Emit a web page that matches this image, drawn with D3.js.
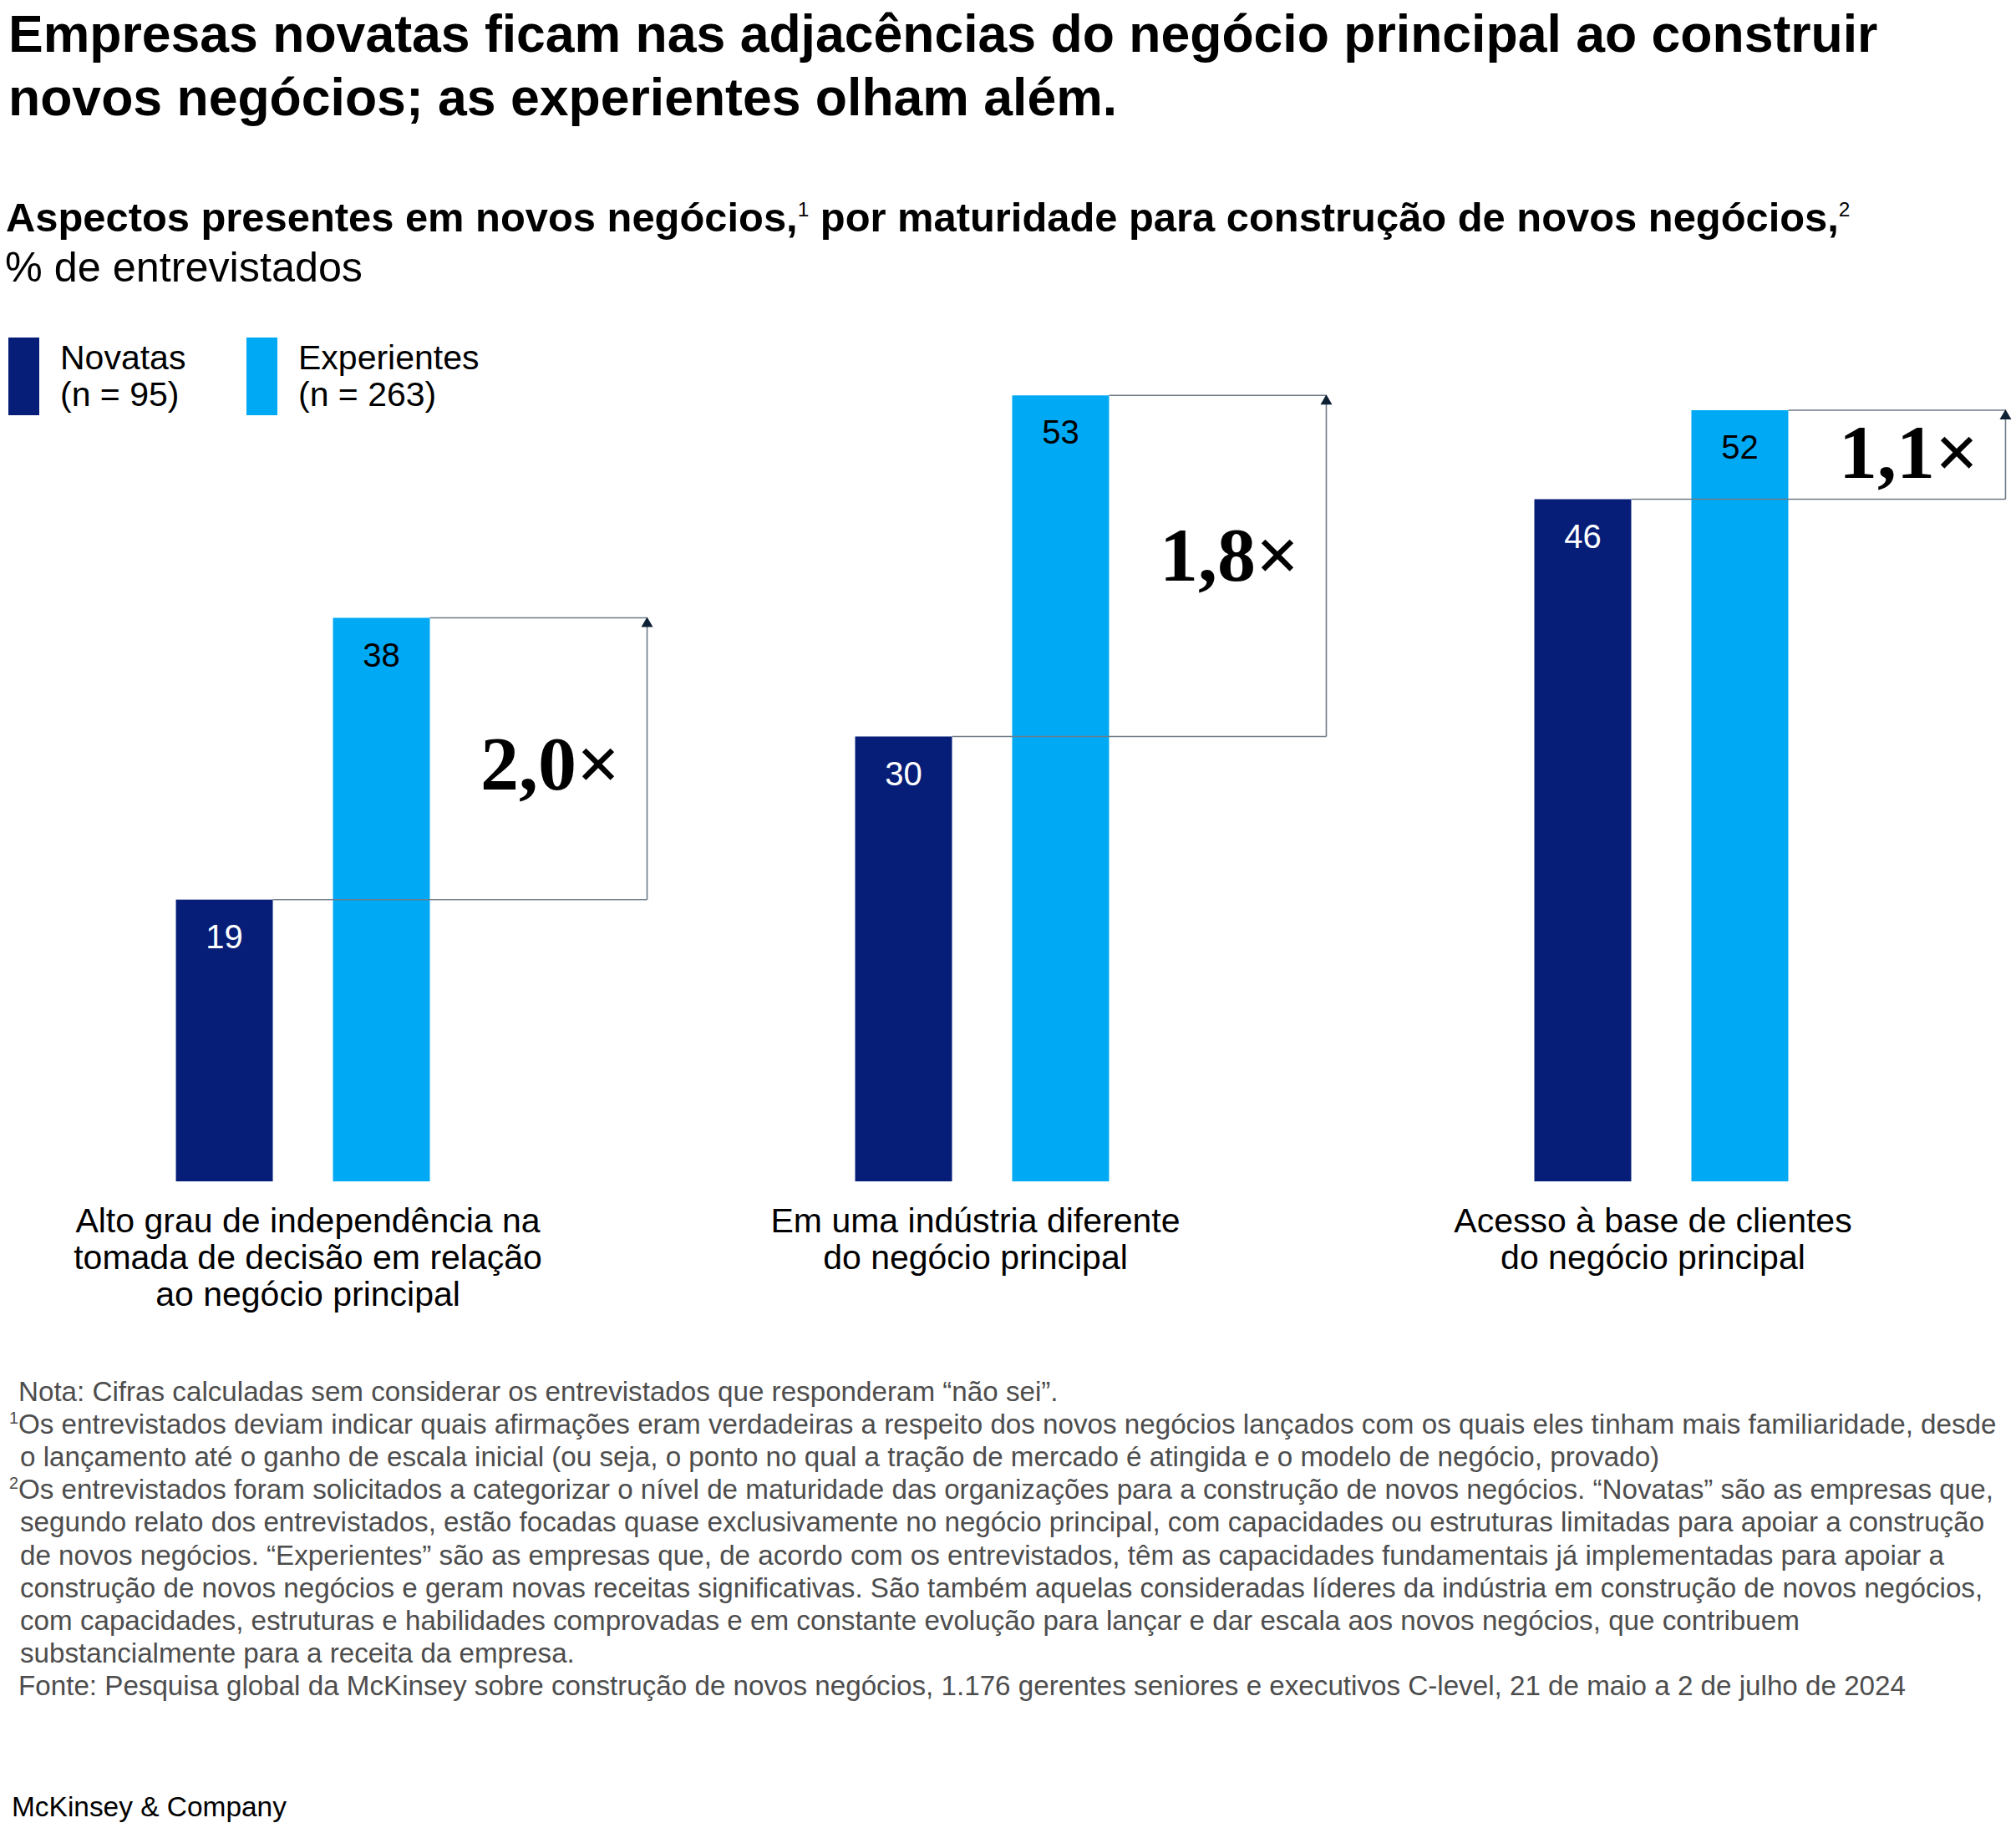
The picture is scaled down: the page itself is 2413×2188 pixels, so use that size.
<!DOCTYPE html>
<html><head><meta charset="utf-8">
<script src="https://cdn.jsdelivr.net/npm/d3@7"></script>
<style>body{margin:0;background:#fff} svg{display:block}</style>
</head><body>
<script>
// ---- data ----
const categories = ["Alto grau de independência na tomada de decisão em relação ao negócio principal",
                    "Em uma indústria diferente do negócio principal",
                    "Acesso à base de clientes do negócio principal"];
const categoryLines = [["Alto grau de independência na","tomada de decisão em relação","ao negócio principal"],
                       ["Em uma indústria diferente","do negócio principal"],
                       ["Acesso à base de clientes","do negócio principal"]];
const series = ["Novatas","Experientes"];
const seriesN = ["(n = 95)","(n = 263)"];
const novatas = [19, 30, 46];
const experientes = [38, 53, 52];
const multipliers = ["2,0×","1,8×","1,1×"];
const titleLines = ["Empresas novatas ficam nas adjacências do negócio principal ao construir",
                    "novos negócios; as experientes olham além."];
const subtitleParts = ["Aspectos presentes em novos negócios,","1"," por maturidade para construção de novos negócios,","2"];
const unitLabel = "% de entrevistados";
const footnotes = [
  ["", "Nota: Cifras calculadas sem considerar os entrevistados que responderam “não sei”."],
  ["1","Os entrevistados deviam indicar quais afirmações eram verdadeiras a respeito dos novos negócios lançados com os quais eles tinham mais familiaridade, desde"],
  ["", "o lançamento até o ganho de escala inicial (ou seja, o ponto no qual a tração de mercado é atingida e o modelo de negócio, provado)"],
  ["2","Os entrevistados foram solicitados a categorizar o nível de maturidade das organizações para a construção de novos negócios. “Novatas” são as empresas que,"],
  ["", "segundo relato dos entrevistados, estão focadas quase exclusivamente no negócio principal, com capacidades ou estruturas limitadas para apoiar a construção"],
  ["", "de novos negócios. “Experientes” são as empresas que, de acordo com os entrevistados, têm as capacidades fundamentais já implementadas para apoiar a"],
  ["", "construção de novos negócios e geram novas receitas significativas. São também aquelas consideradas líderes da indústria em construção de novos negócios,"],
  ["", "com capacidades, estruturas e habilidades comprovadas e em constante evolução para lançar e dar escala aos novos negócios, que contribuem"],
  ["", "substancialmente para a receita da empresa."],
  ["", "Fonte: Pesquisa global da McKinsey sobre construção de novos negócios, 1.176 gerentes seniores e executivos C-level, 21 de maio a 2 de julho de 2024"]
];
const brand = "McKinsey & Company";

// ---- styles ----
const W = 2413, H = 2188;
const NAVY = "#061e78", BLUE = "#00a9f4";
const SANS = "'Liberation Sans', Arial, Helvetica, sans-serif";
const SERIF = "'Liberation Serif', 'Times New Roman', serif";
const labelShift = [6, -8, -10];      // horizontal nudge of category labels (layout)
const multShift = [6, -13, -3];       // vertical nudge of multiplier labels (layout)

const svg = d3.select("body").append("svg").attr("width", W).attr("height", H)
  .style("font-family", SANS);

function fit(sel, target) {
  const len = sel.node().getComputedTextLength();
  const fs = parseFloat(sel.attr("font-size"));
  const nf = fs * target / len;
  sel.attr("font-size", nf);
  return nf;
}

// ---- title ----
const t1 = svg.append("text").attr("x", 10).attr("y", 62).attr("font-size", 60)
  .attr("font-weight", "bold").attr("fill", "#000").text(titleLines[0]);
const tfs = fit(t1, 2238);
svg.append("text").attr("x", 10).attr("y", 138).attr("font-size", tfs)
  .attr("font-weight", "bold").attr("fill", "#000").text(titleLines[1]);

// ---- subtitle ----
const st = svg.append("text").attr("x", 7).attr("y", 277).attr("font-size", 46)
  .attr("font-weight", "bold").attr("fill", "#000");
st.append("tspan").text(subtitleParts[0]);
st.append("tspan").attr("font-size", "0.5em").attr("font-weight", "normal").attr("dy", -18).text(subtitleParts[1]);
st.append("tspan").attr("dy", 18).text(subtitleParts[2]);
st.append("tspan").attr("font-size", "0.5em").attr("font-weight", "normal").attr("dy", -18).text(subtitleParts[3]);
const sfs = fit(st, 2208);
const ut = svg.append("text").attr("x", 6).attr("y", 337).attr("font-size", sfs)
  .attr("fill", "#000").text(unitLabel);
fit(ut, 428);

// ---- legend ----
const legX = [10, 295];
series.forEach((s, i) => {
  svg.append("rect").attr("x", legX[i]).attr("y", 404).attr("width", 37).attr("height", 93)
    .attr("fill", i === 0 ? NAVY : BLUE);
  svg.append("text").attr("x", legX[i] + 62).attr("y", 442).attr("font-size", 41).attr("fill", "#000").text(s);
  svg.append("text").attr("x", legX[i] + 62).attr("y", 486).attr("font-size", 41).attr("fill", "#000").text(seriesN[i]);
});

// ---- scales ----
const x0 = d3.scaleBand().domain(d3.range(categories.length)).range([-44, 2395])
  .paddingInner(0.6261).paddingOuter(0.3131);
const x1 = d3.scaleBand().domain(series).range([0, x0.bandwidth()]).paddingInner(0.383);
const y = d3.scaleLinear().domain([0, 60]).range([1414, 349]);

const rows = categories.map((c, i) => ({ i, vals: [novatas[i], experientes[i]] }));

const g = svg.append("g");
// bars
rows.forEach(r => {
  series.forEach((s, k) => {
    const v = r.vals[k];
    g.append("rect").attr("x", x0(r.i) + x1(s)).attr("y", y(v))
      .attr("width", x1.bandwidth()).attr("height", y(0) - y(v))
      .attr("fill", k === 0 ? NAVY : BLUE);
    g.append("text").attr("x", x0(r.i) + x1(s) + x1.bandwidth() / 2).attr("y", y(v) + 58)
      .attr("text-anchor", "middle").attr("font-size", 40)
      .attr("fill", k === 0 ? "#fff" : "#000").text(v);
  });
});

// brackets + multipliers
const LINE = "#6f7b88";
rows.forEach(r => {
  const bw = x1.bandwidth();
  const nRight = x0(r.i) + x1(series[0]) + bw;
  const eRight = x0(r.i) + x1(series[1]) + bw;
  const bx = eRight + 260;
  const yN = y(r.vals[0]), yE = y(r.vals[1]);
  g.append("line").attr("x1", nRight).attr("x2", bx).attr("y1", yN).attr("y2", yN)
    .attr("stroke", LINE).attr("stroke-width", 1.6);
  g.append("line").attr("x1", eRight).attr("x2", bx).attr("y1", yE).attr("y2", yE)
    .attr("stroke", LINE).attr("stroke-width", 1.6);
  g.append("line").attr("x1", bx).attr("x2", bx).attr("y1", yN).attr("y2", yE + 6)
    .attr("stroke", LINE).attr("stroke-width", 1.6);
  g.append("path").attr("d", `M${bx},${yE - 1}L${bx + 7},${yE + 11}L${bx - 7},${yE + 11}Z`)
    .attr("fill", "#0d2135");
  g.append("text").attr("x", bx - 32).attr("y", (yN + yE) / 2 + 31 + multShift[r.i])
    .attr("text-anchor", "end").attr("font-family", SERIF).attr("font-weight", "bold")
    .attr("font-size", 92).attr("fill", "#000").text(multipliers[r.i]);
});

// category labels
categoryLines.forEach((lines, i) => {
  const cx = x0(i) + x0.bandwidth() / 2 + labelShift[i];
  lines.forEach((ln, k) => {
    svg.append("text").attr("x", cx).attr("y", 1475 + k * 44).attr("text-anchor", "middle")
      .attr("font-size", 41).attr("fill", "#000").text(ln);
  });
});

// ---- footnotes ----
const last = svg.append("text").attr("x", 22).attr("y", 1677 + 9 * 39.1)
  .attr("font-size", 29).attr("fill", "#4d4d4d").text(footnotes[9][1]);
const ffs = fit(last, 2260);
footnotes.slice(0, 9).forEach((f, i) => {
  const yy = 1677 + i * 39.1;
  if (f[0]) {
    svg.append("text").attr("x", 11).attr("y", yy - 12).attr("font-size", ffs * 0.6)
      .attr("fill", "#4d4d4d").text(f[0]);
  }
  svg.append("text").attr("x", f[0] || i === 0 ? 22 : 24).attr("y", yy).attr("font-size", ffs)
    .attr("fill", "#4d4d4d").text(f[1]);
});

// ---- brand ----
const br = svg.append("text").attr("x", 14).attr("y", 2174).attr("font-size", 32)
  .attr("fill", "#000").text(brand);
fit(br, 329);
</script>
</body></html>
